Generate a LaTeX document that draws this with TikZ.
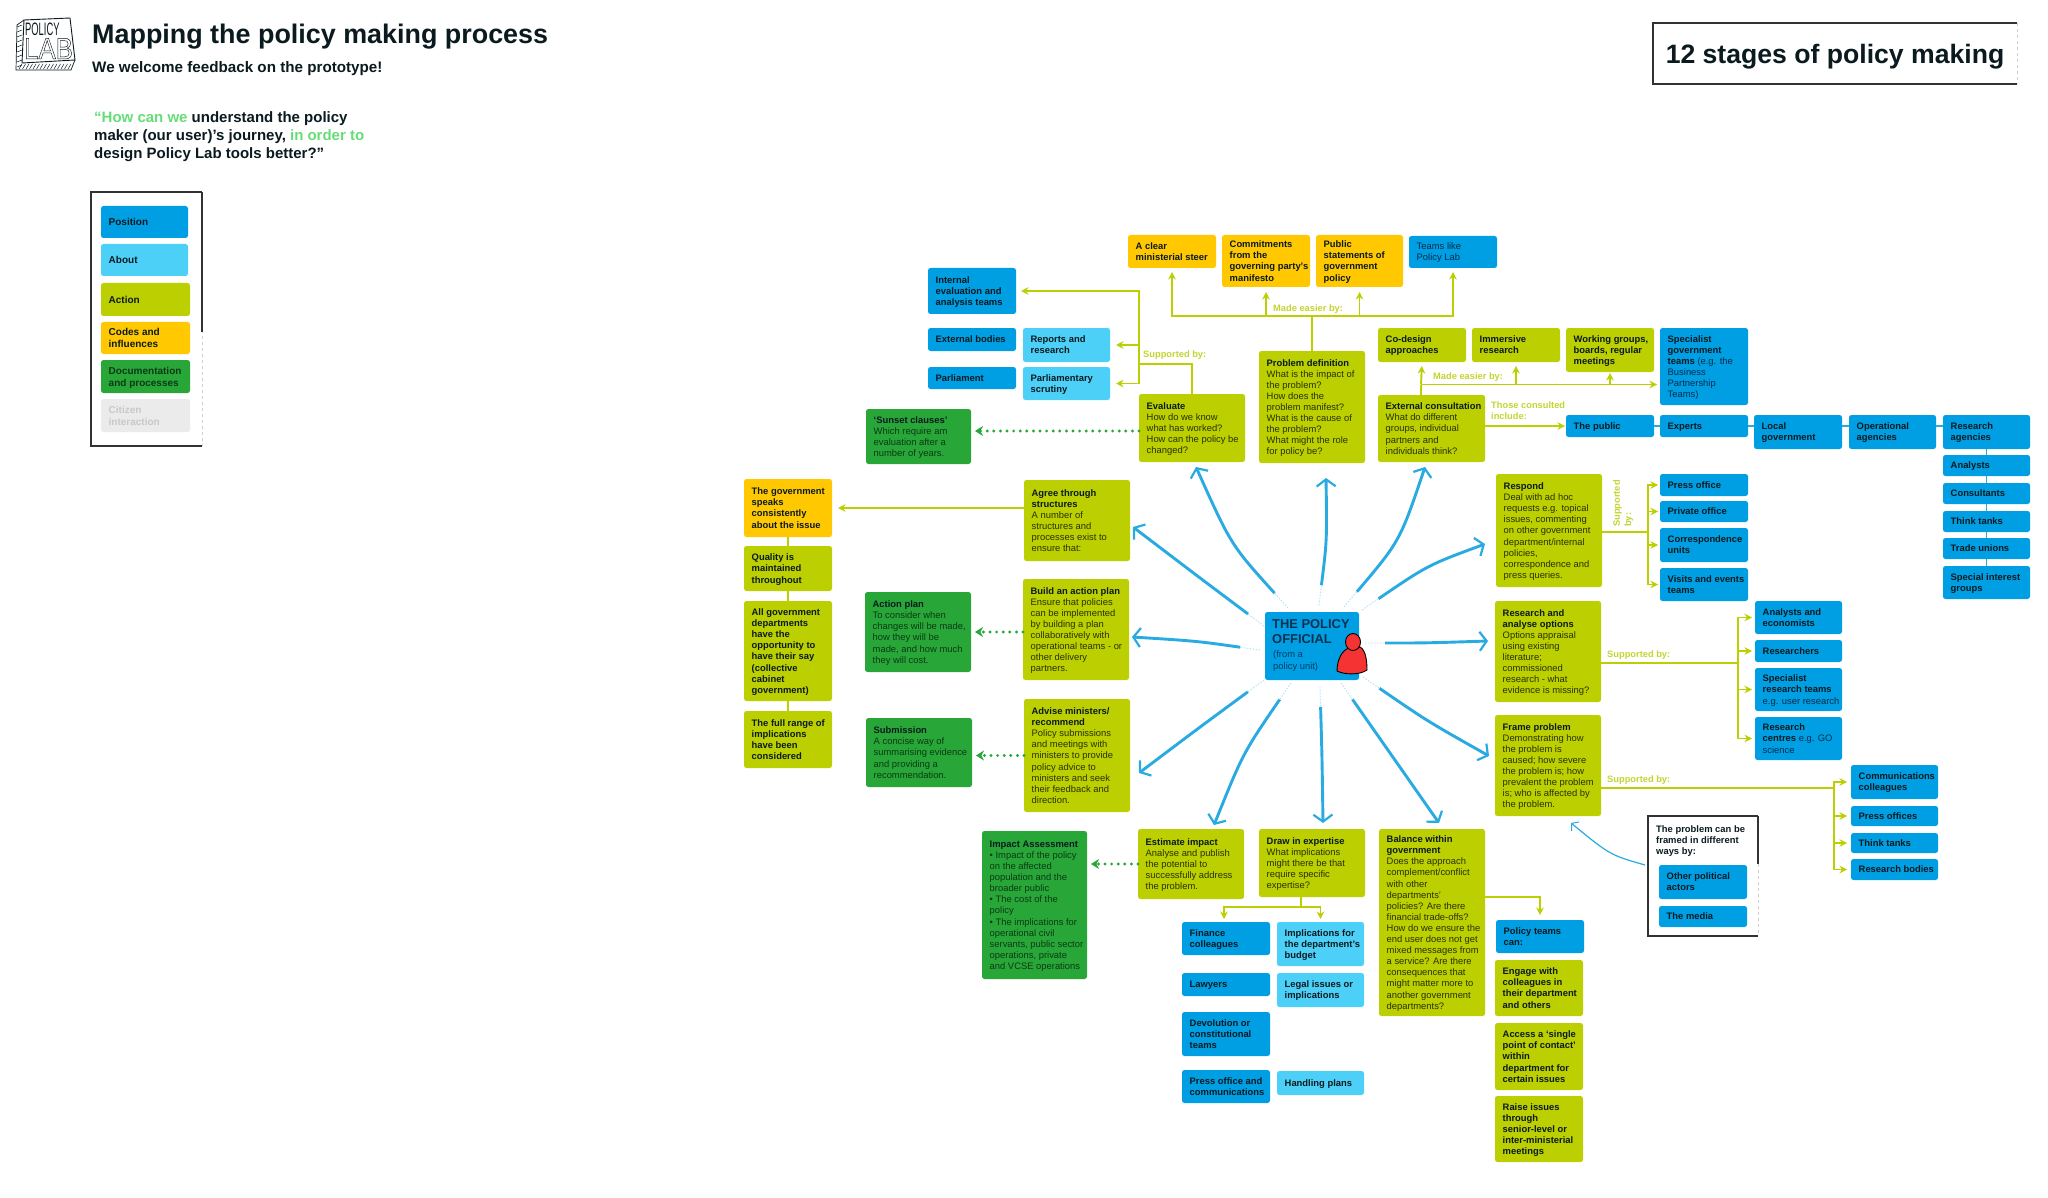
\documentclass[tikz,border=0pt]{standalone}
\usepackage{fontspec}
\usepackage{graphicx}
\setmainfont{Liberation Sans}
\usetikzlibrary{arrows.meta,calc}
\definecolor{cblue}{HTML}{009FE3}
\definecolor{clight}{HTML}{4DD0F7}
\definecolor{colive}{HTML}{BCCF00}
\definecolor{cyel}{HTML}{FFC800}
\definecolor{cgreen}{HTML}{29A638}
\definecolor{cgrey}{HTML}{EBEBEB}
\definecolor{bt}{HTML}{0A1A1F}
\definecolor{clabel}{HTML}{C3D52F}
\definecolor{chub}{HTML}{29ABE2}
\definecolor{csoft}{HTML}{66DD77}
\definecolor{cred}{HTML}{F53333}
\newcommand\bxfont{\fontsize{9.4}{11.1}\selectfont}
\newcommand\legfont{\fontsize{10}{12.3}\selectfont}
\newcommand\tb[1]{\textbf{\color{bt}#1}}
\newcommand\bx[7][]{%
  \pgfmathsetlengthmacro\bw{#5-#3}\pgfmathsetlengthmacro\bh{#6-#4}%
  \node[bxs,#1,minimum width=\bw,minimum height=\bh] (#2) at (#3,#4)
    {\makebox[\bw][l]{\hspace{7.7pt}\raisebox{-1.2pt}[\height][\depth]{\begin{tabular}{@{}l@{}}#7\end{tabular}}}};}
\newcommand\hub[4]{%
  \coordinate (hs#1) at (#2); \coordinate (ht#1) at (#4);
  \draw[hubfade] (hs#1) .. controls (#3) .. (ht#1);
  \draw[hubline] (hs#1) .. controls (#3) .. (ht#1);}
\newcommand\sketch[1]{%
  \draw[skd] (#1.north east) -- (#1.north west) -- (#1.south west) -- (#1.south east);
  \draw[skl] (#1.north east) -- (#1.south east);}
\newcommand\dotlink[2]{%
  \draw[dots] (#1) -- (#2);}
\tikzset{
  bxs/.style={anchor=north west,inner sep=0pt,outer sep=0pt,rounded corners=2.5pt,font=\bxfont},
  fb/.style={bxs,fill=cblue,text=bt},
  fbm/.style={bxs,fill=cblue,text={rgb,255:red,3;green,44;blue,74}},
  fl/.style={bxs,fill=clight,text=bt},
  fo/.style={bxs,fill=colive,text={rgb,255:red,40;green,50;blue,0}},
  fy/.style={bxs,fill=cyel,text=bt},
  fg/.style={bxs,fill=cgreen,text={rgb,255:red,10;green,58;blue,22}},
  leg/.style={font=\legfont},
  frm/.style={bxs,rounded corners=0pt,fill=white},
  skd/.style={draw={rgb,255:red,50;green,50;blue,50},line width=1.1pt},
  skl/.style={draw={rgb,255:red,205;green,205;blue,205},line width=.9pt,dashed},
  ol/.style={draw=colive,line width=1.9pt},
  arr/.style={ol,-{Stealth[length=7.5pt,width=7.5pt]},shorten >=#1},
  arr/.default=3pt,
  dots/.style={draw=cgreen,line width=3.2pt,line cap=round,dash pattern=on 0pt off 6.6pt,
     -{Stealth[length=8pt,width=10pt]},shorten >=4pt},
  chain/.style={draw=chub,line width=1.4pt},
  lab/.style={font=\fontsize{9.3}{11.1}\selectfont\bfseries,text=clabel,inner sep=0pt,anchor=west,align=left},
  hubfade/.style={draw=chub!35,line width=.9pt,dash pattern=on 1.5pt off 1.5pt},
  hubline/.style={draw=chub,line width=2.9pt,shorten <=20pt,-{Straight Barb[length=7pt,width=19pt,line width=2.2pt]}},
}
\begin{document}
\begin{tikzpicture}[x=1pt,y=-1pt]
\useasboundingbox[fill=white] (0,0) rectangle (2048,1198);

%% logo
\fill[white] (17,24) -- (24,19) -- (70,18) -- (76,60) -- (71,70) -- (16,70) -- cycle;
\draw[line width=.9pt,bt] (24,20) -- (70,18) -- (75,60) -- (22,63) -- cycle;
\draw[line width=.7pt,bt] (24,20) -- (17,25) -- (16,70) -- (71,70) -- (75,60);
\foreach \i in {0,3.5,...,50}{\draw[line width=.5pt,bt] (19+\i,69) -- (22+\i,64);}
\foreach \i in {0,5,...,40}{\draw[line width=.5pt,bt] (17,27+\i) -- (22,25+\i);}
\node[inner sep=0pt,anchor=base west,text=bt] (logoA) at (25,35.5) {\scalebox{.52}[1]{\fontsize{18}{18}\selectfont POLICY}};
\node[inner sep=0pt,anchor=base west,text=bt] (logoB) at (24,59) {\scalebox{.86}[1]{\fontsize{30}{30}\selectfont\special{pdf:code 1 Tr 0.5 w}LAB\special{pdf:code 0 Tr}}};

%% headings
\node[inner sep=0pt,anchor=base west,text=bt,font=\fontsize{26.9}{30}\selectfont\bfseries] (title) at (92,44) {Mapping the policy making process};
\node[inner sep=0pt,anchor=base west,text=bt,font=\fontsize{15.2}{18}\selectfont\bfseries] (subtitle) at (92,73) {We welcome feedback on the prototype!};
\node[inner sep=0pt,anchor=base west,align=left,text=bt,font=\fontsize{15}{18.2}\selectfont\bfseries] (quote) at (94,159)
 {\textcolor{csoft}{“How can we} understand the policy\\maker (our user)’s journey, \textcolor{csoft}{in order to}\\design Policy Lab tools better?”};

%% stages frame
\node[frm,font=\fontsize{26.6}{30}\selectfont\bfseries,text=bt,minimum width=364pt,minimum height=61pt] (stages) at (1653,23) {\raisebox{-3pt}[\height][\depth]{12 stages of policy making}};
\sketch{stages}

%% legend
\bx[frm]{legend}{91}{192}{202}{446}{}
\sketch{legend}
\draw[skd] (legend.north east) -- ($(legend.north east)!.55!(legend.south east)$);
\bx[fb,leg]{lposition}{101}{206}{188}{238}{\tb{Position}}
\bx[fl,leg]{labout}{101}{244}{188}{276}{\tb{About}}
\bx[fo,leg]{laction}{101}{283}{190}{316}{\tb{Action}}
\bx[fy,leg]{lcodes}{101}{322}{190}{354}{\tb{Codes and}\\\tb{influences}}
\bx[fg,leg]{ldoc}{101}{360}{190}{393}{\textbf{Documentation}\\\textbf{and processes}}
\bx[bxs,fill=cgrey,text={rgb,255:red,200;green,200;blue,200},leg]{lcit}{101}{399}{190}{432}{\textbf{Citizen}\\\textbf{interaction}}

%% top row
\bx[fy]{aclear}{1128}{235}{1216}{268}{\tb{A clear}\\\tb{ministerial steer}}
\bx[fy]{commit}{1222}{235}{1310}{287}{\tb{Commitments}\\\tb{from the}\\\tb{governing party’s}\\\tb{manifesto}}
\bx[fy]{pubst}{1316}{235}{1403}{287}{\tb{Public}\\\tb{statements of}\\\tb{government}\\\tb{policy}}
\bx[fbm]{teams}{1409}{236}{1497}{268}{Teams like\\Policy Lab}

\bx[fb]{internal}{928}{268}{1016}{314}{\tb{Internal}\\\tb{evaluation and}\\\tb{analysis teams}}
\bx[fb]{extbod}{928}{328}{1016}{351}{\tb{External bodies}}
\bx[fl]{reports}{1023}{328}{1110}{362}{\tb{Reports and}\\\tb{research}}
\bx[fb]{parl}{928}{367}{1016}{389}{\tb{Parliament}}
\bx[fl]{scrutiny}{1023}{367}{1110}{400}{\tb{Parliamentary}\\\tb{scrutiny}}
\bx[fo]{evaluate}{1139}{394}{1245}{462}{\tb{Evaluate}\\How do we know\\what has worked?\\How can the policy be\\changed?}
\bx[fo]{problem}{1259}{351}{1365}{463}{\tb{Problem definition}\\What is the impact of\\the problem?\\How does the\\problem manifest?\\What is the cause of\\the problem?\\What might the role\\for policy be?}
\bx[fg]{sunset}{866}{409}{971}{464}{\tb{‘Sunset clauses’}\\Which require am\\evaluation after a\\number of years.}

\bx[fo]{codesign}{1378}{328}{1466}{362}{\tb{Co-design}\\\tb{approaches}}
\bx[fo]{immersive}{1472}{328}{1560}{362}{\tb{Immersive}\\\tb{research}}
\bx[fo]{working}{1566}{328}{1654}{372}{\tb{Working groups,}\\\tb{boards, regular}\\\tb{meetings}}
\bx[fbm]{specialist}{1660}{328}{1748}{405}{\tb{Specialist}\\\tb{government}\\\tb{teams} (e.g. the\\Business\\Partnership\\Teams)}
\bx[fo]{extc}{1378}{395}{1485}{462}{\tb{External consultation}\\What do different\\groups, individual\\partners and\\individuals think?}

\bx[fb]{public}{1566}{415}{1654}{437}{\tb{The public}}
\bx[fb]{experts}{1660}{415}{1748}{437}{\tb{Experts}}
\bx[fb]{localg}{1754}{415}{1842}{449}{\tb{Local}\\\tb{government}}
\bx[fb]{operat}{1849}{415}{1936}{449}{\tb{Operational}\\\tb{agencies}}
\bx[fb]{resag}{1943}{415}{2030}{449}{\tb{Research}\\\tb{agencies}}
\bx[fb]{analysts}{1943}{455}{2030}{476}{\tb{Analysts}}
\bx[fb]{consult}{1943}{483}{2030}{504}{\tb{Consultants}}
\bx[fb]{think}{1943}{511}{2030}{532}{\tb{Think tanks}}
\bx[fb]{trade}{1943}{538}{2030}{559}{\tb{Trade unions}}
\bx[fb]{special}{1943}{566}{2030}{599}{\tb{Special interest}\\\tb{groups}}

%% right column
\bx[fo]{respond}{1496}{474}{1602}{587}{\tb{Respond}\\Deal with ad hoc\\requests e.g. topical\\issues, commenting\\on other government\\department/internal\\policies,\\correspondence and\\press queries.}
\bx[fb]{pressoff}{1660}{474}{1748}{496}{\tb{Press office}}
\bx[fb]{private}{1660}{501}{1748}{522}{\tb{Private office}}
\bx[fb]{corresp}{1660}{528}{1748}{562}{\tb{Correspondence}\\\tb{units}}
\bx[fb]{visits}{1660}{568}{1748}{601}{\tb{Visits and events}\\\tb{teams}}
\bx[fo]{research}{1495}{601}{1601}{702}{\tb{Research and}\\\tb{analyse options}\\Options appraisal\\using existing\\literature;\\commissioned\\research - what\\evidence is missing?}
\bx[fb]{econ}{1755}{601}{1842}{634}{\tb{Analysts and}\\\tb{economists}}
\bx[fb]{researchers}{1755}{640}{1842}{662}{\tb{Researchers}}
\bx[fbm]{srt}{1755}{668}{1842}{711}{\tb{Specialist}\\\tb{research teams}\\e.g. user research}
\bx[fbm]{centres}{1755}{717}{1842}{760}{\tb{Research}\\\tb{centres} e.g. GO\\science}
\bx[fo]{frameb}{1495}{715}{1601}{816}{\tb{Frame problem}\\Demonstrating how\\the problem is\\caused; how severe\\the problem is; how\\prevalent the problem\\is; who is affected by\\the problem.}
\bx[fb]{comms}{1851}{765}{1938}{799}{\tb{Communications}\\\tb{colleagues}}
\bx[fb]{pressoffs}{1851}{806}{1938}{826}{\tb{Press offices}}
\bx[fb]{thinkt}{1851}{833}{1938}{853}{\tb{Think tanks}}
\bx[fb]{resbod}{1851}{859}{1938}{880}{\tb{Research bodies}}

\bx[frm,text=bt]{framep}{1648}{816}{1758}{936}{}
\sketch{framep}
\draw[skd] (framep.north east) -- ($(framep.north east)!.4!(framep.south east)$);
\node[inner sep=0pt,anchor=north west,align=left,font=\bxfont,text=bt] (framet) at (1656,825) {\tb{The problem can be}\\\tb{framed in different}\\\tb{ways by:}};
\bx[fb]{otherpol}{1659}{865}{1747}{899}{\tb{Other political}\\\tb{actors}}
\bx[fb]{media}{1659}{906}{1747}{927}{\tb{The media}}

%% left column
\bx[fy]{gov}{744}{479}{832}{537}{\tb{The government}\\\tb{speaks}\\\tb{consistently}\\\tb{about the issue}}
\bx[fo]{quality}{744}{546}{832}{591}{\tb{Quality is}\\\tb{maintained}\\\tb{throughout}}
\bx[fo]{allgov}{744}{601}{832}{701}{\tb{All government}\\\tb{departments}\\\tb{have the}\\\tb{opportunity to}\\\tb{have their say}\\\tb{(collective}\\\tb{cabinet}\\\tb{government)}}
\bx[fo]{fullr}{744}{711}{832}{768}{\tb{The full range of}\\\tb{implications}\\\tb{have been}\\\tb{considered}}
\bx[fo]{agree}{1024}{480}{1130}{561}{\tb{Agree through}\\\tb{structures}\\A number of\\structures and\\processes exist to\\ensure that:}
\bx[fo]{build}{1023}{579}{1129}{680}{\tb{Build an action plan}\\Ensure that policies\\can be implemented\\by building a plan\\collaboratively with\\operational teams - or\\other delivery\\partners.}
\bx[fo]{advise}{1024}{699}{1130}{812}{\tb{Advise ministers/}\\\tb{recommend}\\Policy submissions\\and meetings with\\ministers to provide\\policy advice to\\ministers and seek\\their feedback and\\direction.}
\bx[fg]{actionp}{865}{592}{971}{672}{\tb{Action plan}\\To consider when\\changes will be made,\\how they will be\\made, and how much\\they will cost.}
\bx[fg]{submission}{866}{718}{972}{787}{\tb{Submission}\\A concise way of\\summarising evidence\\and providing a\\recommendation.}

%% bottom
\bx[fg]{impact}{982}{831}{1087}{979}{\tb{Impact Assessment}\\• Impact of the policy\\on the affected\\population and the\\broader public\\• The cost of the\\policy\\• The implications for\\operational civil\\servants, public sector\\operations, private\\and VCSE operations}
\bx[fo]{estimate}{1138}{829}{1244}{899}{\tb{Estimate impact}\\Analyse and publish\\the potential to\\successfully address\\the problem.}
\bx[fo]{drawin}{1259}{829}{1365}{897}{\tb{Draw in expertise}\\What implications\\might there be that\\require specific\\expertise?}
\bx[fo]{balance}{1379}{829}{1485}{1016}{\tb{Balance within}\\\tb{government}\\Does the approach\\complement/conflict\\with other\\departments’\\policies? Are there\\financial trade-offs?\\How do we ensure the\\end user does not get\\mixed messages from\\a service? Are there\\consequences that\\might matter more to\\another government\\departments?}
\bx[fb]{finance}{1182}{922}{1270}{955}{\tb{Finance}\\\tb{colleagues}}
\bx[fl]{implic}{1277}{922}{1364}{966}{\tb{Implications for}\\\tb{the department’s}\\\tb{budget}}
\bx[fb]{lawyers}{1182}{973}{1270}{996}{\tb{Lawyers}}
\bx[fl]{legal}{1277}{973}{1364}{1007}{\tb{Legal issues or}\\\tb{implications}}
\bx[fb]{devol}{1182}{1012}{1270}{1056}{\tb{Devolution or}\\\tb{constitutional}\\\tb{teams}}
\bx[fb]{presscom}{1182}{1070}{1270}{1103}{\tb{Press office and}\\\tb{communications}}
\bx[fl]{handling}{1277}{1071}{1364}{1095}{\tb{Handling plans}}
\bx[fb]{pteams}{1496}{920}{1584}{953}{\tb{Policy teams}\\\tb{can:}}
\bx[fo]{engage}{1495}{960}{1583}{1016}{\tb{Engage with}\\\tb{colleagues in}\\\tb{their department}\\\tb{and others}}
\bx[fo]{access}{1495}{1023}{1583}{1090}{\tb{Access a ‘single}\\\tb{point of contact’}\\\tb{within}\\\tb{department for}\\\tb{certain issues}}
\bx[fo]{raise}{1495}{1096}{1583}{1162}{\tb{Raise issues}\\\tb{through}\\\tb{senior-level or}\\\tb{inter-ministerial}\\\tb{meetings}}

%% the policy official
\bx[fb]{official}{1265}{612}{1359}{680}{}
\node[inner sep=0pt,anchor=base west,align=left,font=\fontsize{12.9}{14.6}\selectfont\bfseries,text={rgb,255:red,10;green,50;blue,80}] (offt) at (1272,643) {THE POLICY\\OFFICIAL};
\node[inner sep=0pt,anchor=base west,align=left,font=\bxfont,text={rgb,255:red,3;green,60;blue,100}] (offs) at (1273,669) {(from a\\policy unit)};
\draw[fill=cred,draw=black,line width=.9pt] (1337,671) .. controls (1337,660) and (1342,650) .. (1349,648) -- (1360,647) .. controls (1366,650) and (1367,662) .. (1367,670) .. controls (1360,675) and (1345,675) .. (1337,671) -- cycle;
\draw[fill=cred,draw=black,line width=.9pt] (1353,642) ellipse (7.5pt and 8.5pt);

%% hub arrows
\hub{1}{1288,608}{1231,545}{1196,467}
\hub{2}{1319,605}{1327,540}{1326,478}
\hub{3}{1344,607}{1400,541}{1425,467}
\hub{4}{1362,610}{1428,565}{1485,544}
\hub{5}{1365,643}{1427,643}{1488,641}
\hub{6}{1363,677}{1427,721}{1489,756}
\hub{7}{1341,683}{1390,753}{1439,823}
\hub{8}{1320,687}{1322,755}{1323,823}
\hub{9}{1291,683}{1243,753}{1214,825}
\hub{10}{1264,680}{1200,727}{1139,773}
\hub{11}{1260,650}{1196,641}{1132,637}
\hub{12}{1264,626}{1200,578}{1133,527}
\coordinate (fps) at (1645,865);
\coordinate (fpt) at (1571,823);
\draw[draw=chub,line width=1.2pt,-{Straight Barb[length=5pt,width=12pt,line width=1pt]}] (fps) .. controls (1610,855) .. (fpt);

%% connectors: evaluate
\coordinate (sup) at (1139,364);
\draw[ol] (evaluate.north) |- (sup);
\draw[arr=5pt] (sup) |- (internal.east);
\draw[arr=6pt] (sup) |- (reports.east);
\draw[ol] (sup) -- (sup |- scrutiny.east);
\draw[arr=6pt] (sup |- scrutiny.east) -- (scrutiny.east);
\node[lab] (labsup) at (1143,355) {Supported by:};
%% problem
\coordinate (meT) at (1312,316);
\draw[ol] (problem.north) -- (meT);
\draw[arr=4pt] (meT) -| (aclear.south);
\draw[arr=5pt] (meT) -| (commit.south);
\draw[arr=5pt] (meT) -| (pubst.south);
\draw[arr=4pt] (meT) -| (teams.south);
\node[lab] (labme) at (1273,309) {Made easier by:};
%% external consultation
\coordinate (extj) at (1421,395);
\coordinate (meE) at (1421,384.5);
\draw[ol] (extj) -- (meE);
\draw[arr=4pt] (meE) -- (codesign.south);
\draw[arr=4pt] (meE -| immersive.south) -- (immersive.south);
\draw[arr=1pt] (meE -| working.south) -- (working.south);
\draw[arr=3pt] (meE) -- (specialist.west |- meE);
\node[lab] (labme2) at (1433,377) {Made easier by:};
\draw[arr=1pt] (extc.east |- public.west) -- (public.west);
\node[lab] (labthose) at (1491,410.5) {Those consulted\\include:};
%% blue chains
\draw[chain] (public.east) -- (experts.west);
\draw[chain] (experts.east) -- (localg.west |- experts.east);
\draw[chain] (localg.east |- experts.east) -- (operat.west |- experts.east);
\draw[chain] (operat.east |- experts.east) -- (resag.west |- experts.east);
\draw[chain] (resag.south) -- (analysts.north);
\draw[chain] (analysts.south) -- (consult.north);
\draw[chain] (consult.south) -- (think.north);
\draw[chain] (think.south) -- (trade.north);
\draw[chain] (trade.south) -- (special.north);
%% respond
\coordinate (rj) at (1648,532);
\draw[ol] (respond.east |- rj) -- (rj);
\draw[arr=2pt] (rj) |- (pressoff.west);
\draw[arr=2pt] (rj) |- (private.west);
\draw[arr=2pt] (rj) |- (corresp.west);
\draw[arr=2pt] (rj) |- (visits.west);
\node[lab,rotate=90,anchor=north west] (labresp) at (1613,527) {Supported\\by:};
%% research
\coordinate (raj) at (1738,663);
\draw[ol] (research.east |- raj) -- (raj);
\draw[arr=3pt] (raj) |- (econ.west);
\draw[arr=3pt] (raj) |- (researchers.west);
\draw[arr=3pt] (raj) |- (srt.west);
\draw[arr=3pt] (raj) |- (centres.west);
\node[lab] (labres) at (1607,655) {Supported by:};
%% frame
\coordinate (fj) at (1834,788);
\draw[ol] (frameb.east |- fj) -- (fj);
\draw[arr=4pt] (fj) |- (comms.west);
\draw[arr=4pt] (fj) |- (pressoffs.west);
\draw[arr=4pt] (fj) |- (thinkt.west);
\draw[arr=4pt] (fj) |- (resbod.west);
\node[lab] (labfr) at (1607,780) {Supported by:};
%% left column
\draw[arr=6pt] (agree.west |- gov.east) -- (gov.east);
\draw[ol,line width=1.6pt] (gov.south) -- (quality.north);
\draw[ol,line width=1.6pt] (quality.south) -- (allgov.north);
\draw[ol,line width=1.6pt] (allgov.south) -- (fullr.north);
%% dotted links
\coordinate (dsun) at (1139,431);
\dotlink{evaluate.west |- dsun}{sunset.east |- dsun}
\dotlink{build.west |- actionp.east}{actionp.east}
\dotlink{advise.west}{submission.east |- advise.west}
\dotlink{estimate.west}{impact.east |- estimate.west}
%% draw in
\coordinate (dj0) at (1301,897);
\coordinate (dj) at (1301,907);
\coordinate (ftop) at (1224,922);
\draw[ol] (dj0) -- (dj);
\draw[arr=3pt] (dj) -| (ftop);
\draw[arr=3pt] (dj) -| (implic.north);
%% balance
\coordinate (bj) at (1485,897);
\draw[arr=5pt] (bj) -| (pteams.north);
\end{tikzpicture}
\end{document}
